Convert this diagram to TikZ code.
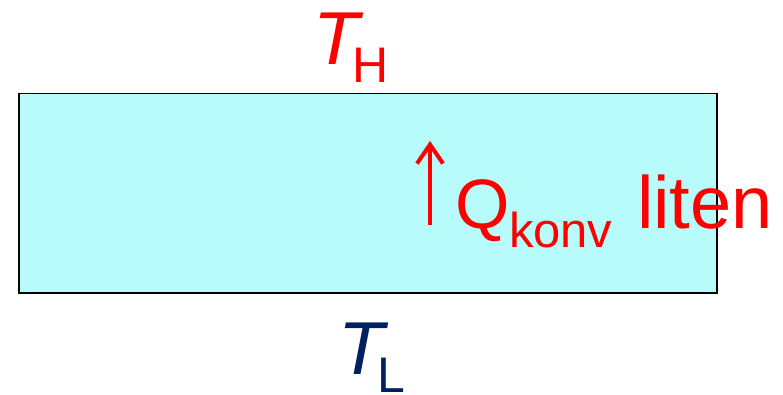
\documentclass[tikz,border=0pt]{standalone}
\usepackage{fontspec}
\setmainfont{Liberation Sans}
\usetikzlibrary{arrows.meta}
\definecolor{boxfill}{RGB}{183,251,251}
\definecolor{darkblue}{RGB}{0,32,96}
\definecolor{hotred}{RGB}{255,0,0}
\tikzset{
  lbl/.style={inner sep=0pt, outer sep=0pt, anchor=base west},
  bigit/.style={lbl, font=\fontsize{75}{80}\selectfont\itshape},
  subtxt/.style={lbl, font=\fontsize{50}{55}\selectfont, text depth=0pt},
  qtxt/.style={lbl, font=\fontsize{70}{75}\selectfont, text=hotred},
}
\begin{document}
\begin{tikzpicture}[x=1pt,y=-1pt]
\useasboundingbox (0,0) rectangle (783,395);
\node[draw=black, line width=1.5pt, fill=boxfill, minimum width=698pt, minimum height=199pt, inner sep=0pt, anchor=north west] (box) at (18,93) {};
\node[bigit, text=hotred] (th) at (313,65) {T};
\node[subtxt, text=hotred] (thsub) at (352,83) {H};
\node[bigit, text=darkblue] (tl) at (338,374) {T};
\node[subtxt, text=darkblue] (tlsub) at (377,392) {L};
\coordinate (a1) at (430,225);
\coordinate (a2) at (430,141);
\draw[hotred, line width=4pt, -{Straight Barb[length=19pt,width=26pt,line width=4pt]}] (a1) -- (a2);
\node[qtxt] (q) at (455,228) {Q};
\node[lbl, font=\fontsize{49}{54}\selectfont, text=hotred] (qsub) at (509,247) {konv};
\node[lbl, font=\fontsize{74}{80}\selectfont, text=hotred] (liten) at (637,228) {liten};
\end{tikzpicture}
\end{document}
